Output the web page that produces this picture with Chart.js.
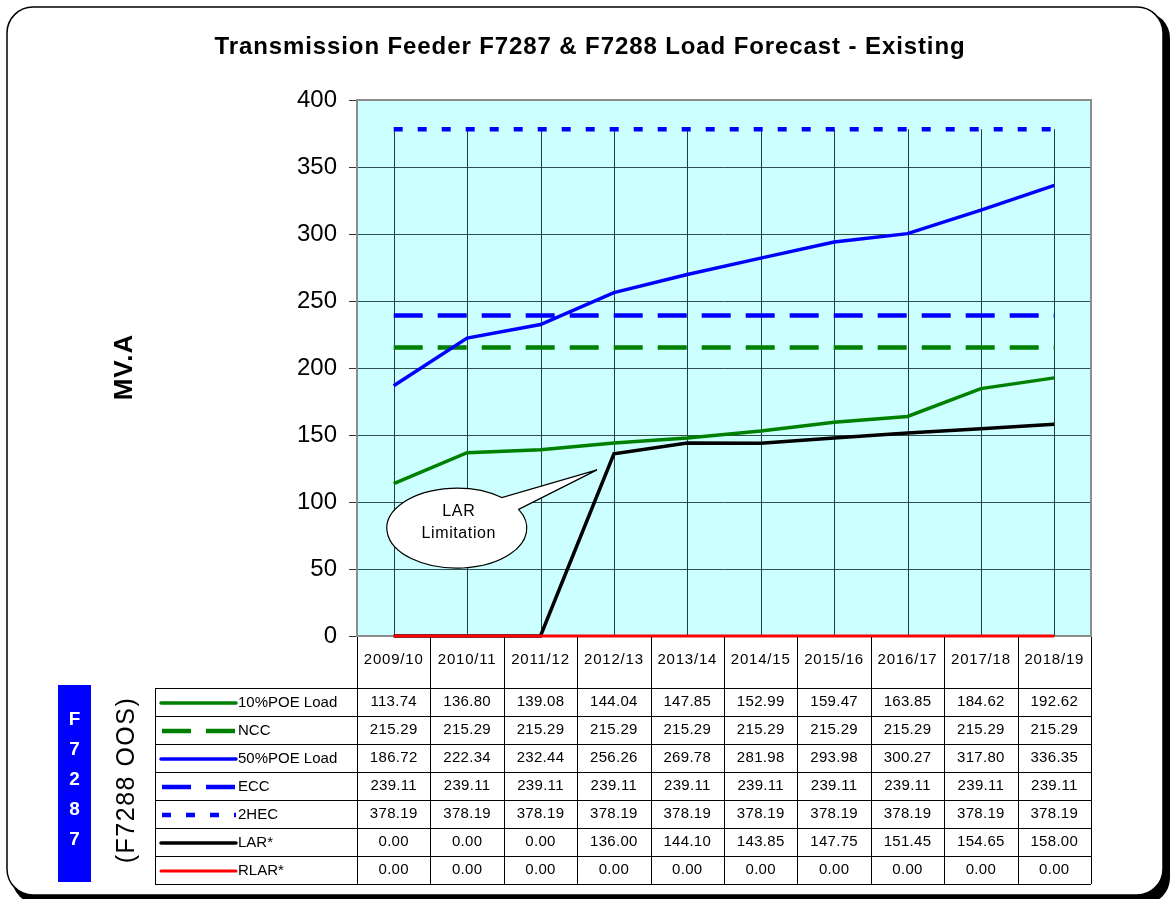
<!DOCTYPE html>
<html>
<head>
<meta charset="utf-8">
<script src="https://cdn.jsdelivr.net/npm/chart.js@4.4.1/dist/chart.umd.min.js"></script>
<style>
  html, body { margin: 0; padding: 0; background: #fff; }
  #wrap { width: 1173px; height: 899px; }
</style>
</head>
<body>
<div id="wrap"><canvas id="loadForecast" width="1173" height="899"></canvas></div>
<script>
var years = ['2009/10', '2010/11', '2011/12', '2012/13', '2013/14', '2014/15', '2015/16', '2016/17', '2017/18', '2018/19'];
var poe10Load = [113.74, 136.80, 139.08, 144.04, 147.85, 152.99, 159.47, 163.85, 184.62, 192.62];
var nccValues = [215.29, 215.29, 215.29, 215.29, 215.29, 215.29, 215.29, 215.29, 215.29, 215.29];
var poe50Load = [186.72, 222.34, 232.44, 256.26, 269.78, 281.98, 293.98, 300.27, 317.80, 336.35];
var eccValues = [239.11, 239.11, 239.11, 239.11, 239.11, 239.11, 239.11, 239.11, 239.11, 239.11];
var hec2Values = [378.19, 378.19, 378.19, 378.19, 378.19, 378.19, 378.19, 378.19, 378.19, 378.19];
var larValues = [0.00, 0.00, 0.00, 136.00, 144.10, 143.85, 147.75, 151.45, 154.65, 158.00];
var rlarValues = [0.00, 0.00, 0.00, 0.00, 0.00, 0.00, 0.00, 0.00, 0.00, 0.00];
var yTicks = [0, 50, 100, 150, 200, 250, 300, 350, 400];

var FONT = '"Liberation Sans", Arial, sans-serif';
var ctx = document.getElementById('loadForecast').getContext('2d');

function series(label, data, color, dash, width) {
    return {
        label: label,
        data: data,
        borderColor: color,
        backgroundColor: color,
        borderWidth: width,
        borderDash: dash,
        borderCapStyle: 'butt',
        pointRadius: 0,
        tension: 0,
        fill: false,
        clip: 4
    };
}

var datasets = [
    series('10%POE Load', poe10Load, '#008000', [], 3.5),
    series('NCC', nccValues, '#008000', [29, 15], 4.5),
    series('50%POE Load', poe50Load, '#0000ff', [], 3.5),
    series('ECC', eccValues, '#0000ff', [29, 15], 4.5),
    series('2HEC', hec2Values, '#0000ff', [9, 15], 4.5),
    series('LAR*', larValues, '#000000', [], 3.5),
    series('RLAR*', rlarValues, '#ff0000', [], 3)
];
// later series on top, like the spreadsheet
datasets.forEach(function (d, i) { d.order = datasets.length - i; });

var framePlugin = {
    id: 'frame',
    beforeDraw: function (chart) {
        var c = chart.ctx, a = chart.chartArea;
        c.save();
        c.fillStyle = '#fff';
        c.fillRect(0, 0, chart.width, chart.height);
        // shadow + rounded outer frame
        c.fillStyle = '#000';
        c.beginPath();
        c.roundRect(12, 12, 1158, 892, 26);
        c.fill();
        c.fillStyle = '#fff';
        c.strokeStyle = '#000';
        c.lineWidth = 1.5;
        c.beginPath();
        c.roundRect(7, 7, 1156, 888, 26);
        c.fill();
        c.stroke();
        // plot background
        c.fillStyle = '#ccffff';
        c.fillRect(a.left, a.top, a.right - a.left, a.bottom - a.top);
        c.restore();
    },
    beforeDatasetsDraw: function (chart) {
        var c = chart.ctx, a = chart.chartArea, x = chart.scales.x, y = chart.scales.y;
        c.save();
        // plot border
        c.strokeStyle = '#8c8c8c';
        c.lineWidth = 2;
        c.strokeRect(a.left, a.top, a.right - a.left, a.bottom - a.top);
        // high-low lines at each category
        c.strokeStyle = '#1f3f3f';
        c.lineWidth = 1;
        years.forEach(function (yr, i) {
            var vals = datasets.map(function (d) { return d.data[i]; });
            var px = Math.round(x.getPixelForValue(i)) + 0.5;
            c.beginPath();
            c.moveTo(px, y.getPixelForValue(Math.max.apply(null, vals)));
            c.lineTo(px, y.getPixelForValue(Math.min.apply(null, vals)));
            c.stroke();
        });
        c.restore();
    },
    afterDraw: function (chart) {
        var c = chart.ctx, a = chart.chartArea, x = chart.scales.x, y = chart.scales.y;
        c.save();

        // title
        c.fillStyle = '#000';
        c.font = 'bold 24px ' + FONT;
        c.letterSpacing = '0.9px';
        c.textAlign = 'center';
        c.textBaseline = 'middle';
        c.fillText('Transmission Feeder F7287 & F7288 Load Forecast - Existing', 590, 47);

        // y axis title
        c.save();
        c.translate(125, 367);
        c.rotate(-Math.PI / 2);
        c.font = 'bold 26px ' + FONT;
        c.letterSpacing = '1px';
        c.fillText('MV.A', 0, 0);
        c.restore();

        // callout
        var cx = x.getPixelForValue(0.86), cy = y.getPixelForValue(80.5);
        var tx = x.getPixelForValue(2.77), ty = y.getPixelForValue(124);
        var rx = 70, ry = 40;
        var t1 = -50 * Math.PI / 180, t2 = -28 * Math.PI / 180;
        c.beginPath();
        c.moveTo(cx + rx * Math.cos(t2), cy + ry * Math.sin(t2));
        c.lineTo(tx, ty);
        c.lineTo(cx + rx * Math.cos(t1), cy + ry * Math.sin(t1));
        c.ellipse(cx, cy, rx, ry, 0, t1, t2, true);
        c.closePath();
        c.fillStyle = '#fff';
        c.fill();
        c.strokeStyle = '#000';
        c.lineWidth = 1.2;
        c.stroke();
        c.fillStyle = '#000';
        c.font = '16px ' + FONT;
        c.letterSpacing = '0.6px';
        c.fillText('LAR', cx + 2, cy - 17);
        c.fillText('Limitation', cx + 2, cy + 5);

        // data table
        var colW = (a.right - a.left) / years.length;
        var headTop = a.bottom, rowTop = a.bottom + 52, rowH = 28;
        var tabLeft = 155, tabBottom = rowTop + rowH * datasets.length;
        c.strokeStyle = '#000';
        c.lineWidth = 1;
        years.forEach(function (yr, i) {
            var px = x.getPixelForValue(i);
            var left = Math.round(px - colW / 2) + 0.5;
            c.beginPath();
            c.moveTo(left, headTop + 1);
            c.lineTo(left, tabBottom);
            c.stroke();
            c.font = '15px ' + FONT;
            c.letterSpacing = '0.8px';
            c.fillText(yr, px, headTop + 24);
            c.letterSpacing = '0.3px';
            datasets.forEach(function (d, r) {
                c.fillText(d.data[i].toFixed(2), px, rowTop + r * rowH + rowH / 2);
            });
        });
        c.beginPath();
        c.moveTo(Math.round(a.right) + 0.5, headTop + 1);
        c.lineTo(Math.round(a.right) + 0.5, tabBottom);
        c.stroke();
        for (var r = 0; r <= datasets.length; r++) {
            var ly = Math.round(rowTop + r * rowH) + 0.5;
            c.beginPath();
            c.moveTo(tabLeft, ly);
            c.lineTo(a.right, ly);
            c.stroke();
        }
        c.beginPath();
        c.moveTo(tabLeft + 0.5, rowTop);
        c.lineTo(tabLeft + 0.5, tabBottom);
        c.stroke();
        // legend keys inside table
        c.textAlign = 'left';
        c.font = '15px ' + FONT;
        c.letterSpacing = '0px';
        datasets.forEach(function (d, r) {
            var ly = rowTop + r * rowH + rowH / 2 + 1;
            c.save();
            c.strokeStyle = d.borderColor;
            c.lineWidth = d.borderWidth;
            c.setLineDash(d.borderDash);
            c.lineCap = d.borderDash.length ? 'butt' : 'round';
            c.beginPath();
            c.moveTo(d.borderDash.length ? 162 : 161, ly);
            c.lineTo(236, ly);
            c.stroke();
            c.restore();
            c.fillText(d.label, 238, ly);
        });

        // F7287 side box
        c.fillStyle = '#0000ff';
        c.fillRect(58, 685, 33, 197);
        c.fillStyle = '#fff';
        c.font = 'bold 19px ' + FONT;
        c.textAlign = 'center';
        'F7287'.split('').forEach(function (ch, i) {
            c.fillText(ch, 74.5, 720 + i * 30);
        });
        c.fillStyle = '#000';
        c.save();
        c.translate(127, 780);
        c.rotate(-Math.PI / 2);
        c.font = '25px ' + FONT;
        c.letterSpacing = '1.5px';
        c.fillText('(F7288 OOS)', 0, 0);
        c.restore();
        c.restore();
    }
};

var chart = new Chart(ctx, {
    type: 'line',
    data: { labels: years, datasets: datasets },
    options: {
        responsive: false,
        animation: false,
        layout: { padding: { left: 0, top: 100, right: 82, bottom: 263 } },
        plugins: {
            legend: { display: false },
            tooltip: { enabled: false },
            title: { display: false }
        },
        scales: {
            x: {
                display: false,
                offset: true
            },
            y: {
                min: 0,
                max: 400,
                afterFit: function (scale) { scale.width = 357; },
                afterBuildTicks: function (scale) {
                    scale.ticks = yTicks.map(function (v) { return { value: v }; });
                },
                ticks: {
                    color: '#000',
                    padding: 12,
                    font: { size: 24, family: FONT }
                },
                grid: {
                    color: '#2f4f4f',
                    lineWidth: 1,
                    tickLength: 8,
                    tickColor: '#333'
                },
                border: { display: true, color: '#8c8c8c', width: 2 }
            }
        }
    },
    plugins: [framePlugin]
});
</script>
</body>
</html>
